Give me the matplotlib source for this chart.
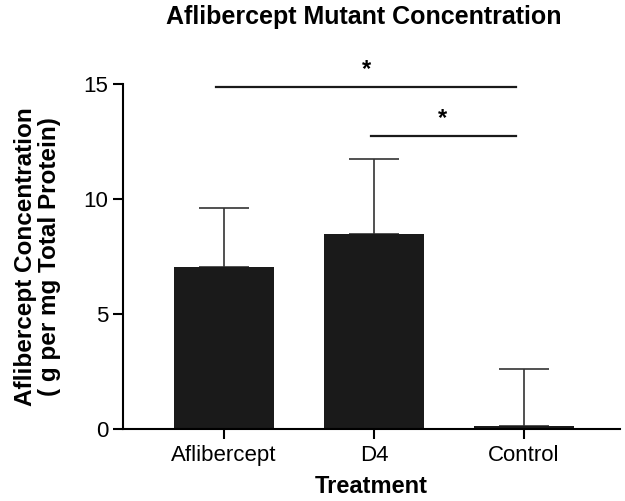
import matplotlib.pyplot as plt
import numpy as np

plt.rcParams['font.family'] = ['Liberation Sans', 'DejaVu Sans']

categories = ['Aflibercept', 'D4', 'Control']
means = [7.05, 8.45, 0.10]
sd = [2.53, 3.29, 2.49]
# significance brackets: (from, to, height)
brackets = [(-0.05, 1.95, 14.87), (0.98, 1.95, 12.73)]
star_x = [0.95, 1.46]

fig = plt.figure(figsize=(6.25, 5.01), dpi=100)
ax = fig.add_axes([0.1968, 0.1447, 0.7952, 0.6876])

x = np.arange(len(categories))
ax.bar(x, means, width=0.667, color='#1a1a1a', zorder=2)
ax.errorbar(x, means, yerr=[np.zeros(len(sd)), sd], fmt='none',
            ecolor='#333333', elinewidth=1.2, capsize=18, capthick=1.2, zorder=1)

for (x0, x1, h), sx in zip(brackets, star_x):
    ax.plot([x0, x1], [h, h], color='#1a1a1a', lw=1.6, clip_on=False)
    ax.text(sx, h + 0.25, '*', ha='center', va='bottom', fontsize=17,
            fontweight='bold', clip_on=False)

ax.set_xlim(-0.673, 2.64)
ax.set_ylim(0, 15)
ax.set_yticks([0, 5, 10, 15])
ax.set_xticks(x)
ax.set_xticklabels(categories)
ax.tick_params(axis='both', labelsize=16, width=1.5, length=7, direction='out')
ax.tick_params(axis='x', pad=5)
ax.spines['top'].set_visible(False)
ax.spines['right'].set_visible(False)
ax.spines['left'].set_linewidth(1.5)
ax.spines['bottom'].set_linewidth(1.5)

ax.set_ylabel('Aflibercept Concentration\n( g per mg Total Protein)',
              fontsize=17.5, fontweight='bold', labelpad=16, linespacing=1.1)
ax.set_xlabel('Treatment', fontsize=17, fontweight='bold', labelpad=6)
fig.text(364 / 625, 1 - 17 / 501, 'Aflibercept Mutant Concentration',
         ha='center', va='center', fontsize=18, fontweight='bold')

fig.savefig('out.png', dpi=100)
